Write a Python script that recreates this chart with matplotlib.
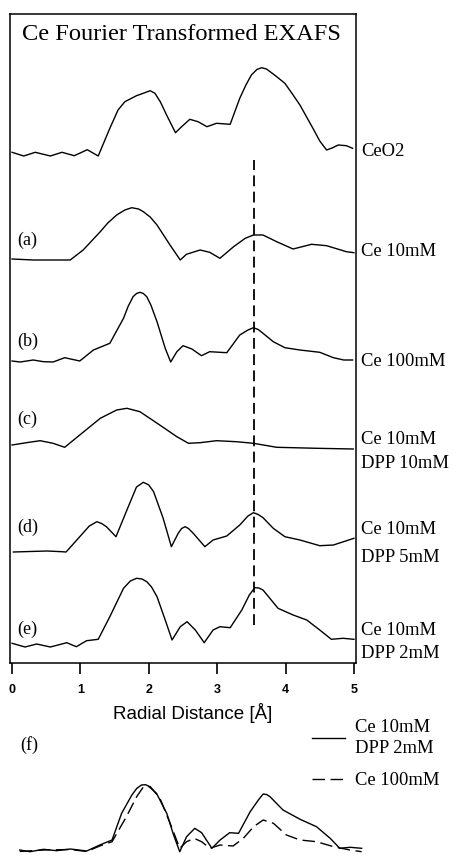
#%%
import matplotlib
matplotlib.use("Agg")
import matplotlib.pyplot as plt

plt.rcParams["font.family"] = ["Liberation Serif", "DejaVu Serif"]

# radial distance (Å) and magnitude (arbitrary, pixel-like units above each baseline)
ceo2_r = [0.0, 0.17, 0.34, 0.56, 0.73, 0.91, 1.10, 1.26, 1.43, 1.55, 1.65, 1.82, 1.95,
          2.02, 2.09, 2.17, 2.26, 2.39, 2.48, 2.60, 2.72, 2.85, 2.99, 3.19, 3.33, 3.42,
          3.50, 3.58, 3.65, 3.72, 3.80, 3.87, 3.99, 4.10, 4.21, 4.40, 4.50, 4.60, 4.68,
          4.77, 4.89, 4.98]
ceo2_ft = [3.7, 0, 3.7, 0, 3.7, 0.3, 6.3, 0, 27.7, 46, 54.3, 60.3, 63.5,
           65.3, 62.7, 54, 41, 23.3, 29.3, 36.7, 34.3, 29.3, 32.7, 31.7, 57.7, 71,
           81, 86.5, 88.3, 87, 83, 79.3, 72.7, 62, 51, 27.7, 15, 6, 8,
           11, 10.3, 7.7]

a_r = [0.0, 0.31, 0.85, 1.04, 1.29, 1.40, 1.53, 1.65, 1.75, 1.85, 1.92, 2.02, 2.12,
       2.31, 2.46, 2.55, 2.75, 2.89, 3.04, 3.24, 3.41, 3.53, 3.67, 3.87, 4.11, 4.38,
       4.60, 4.89, 5.0]
a_ft = [1, 0, 0, 10, 28.3, 37, 45, 50, 52.3, 51, 48.3, 43, 35,
        15, 0, 5.7, 10, 7.7, 1.7, 13.3, 21.7, 25, 25, 18.3, 11, 15.7,
        14.3, 8.3, 7.3]

b_r = [0.0, 0.12, 0.31, 0.46, 0.60, 0.77, 0.99, 1.19, 1.43, 1.63, 1.70, 1.77, 1.82,
       1.87, 1.92, 1.97, 2.03, 2.12, 2.24, 2.32, 2.41, 2.50, 2.63, 2.77, 2.89, 3.14,
       3.33, 3.45, 3.53, 3.60, 3.67, 3.82, 3.99, 4.21, 4.50, 4.70, 4.85, 4.98]
b_ft = [1, 0, 2, 0.3, 0, 4.3, 1, 12, 18.7, 43.7, 56, 65.3, 68.5,
        69.7, 68.5, 65.3, 57, 40.3, 13.7, 0, 10.3, 16.3, 13, 6.3, 10.3, 9.3,
        27, 32, 34.3, 32.5, 28.7, 20.3, 14.3, 12, 9.7, 4.3, 2, 2]

c_r = [0.0, 0.21, 0.41, 0.60, 0.77, 0.99, 1.29, 1.53, 1.68, 1.87, 2.16, 2.41, 2.58,
       2.75, 2.99, 3.28, 3.53, 3.87, 4.46, 4.99]
c_ft = [4, 6.3, 8.3, 5.7, 1.7, 14, 30.7, 39, 40.7, 37.3, 24, 12.3, 5.7,
        6.3, 8.3, 7.3, 5.7, 1.7, 0.7, 0]

d_r = [0.02, 0.51, 0.73, 0.79, 0.99, 1.13, 1.24, 1.31, 1.38, 1.52, 1.73, 1.82, 1.92,
       2.00, 2.07, 2.21, 2.33, 2.43, 2.48, 2.53, 2.58, 2.65, 2.82, 2.94, 3.14, 3.33,
       3.45, 3.53, 3.60, 3.67, 3.82, 3.99, 4.21, 4.50, 4.70, 5.0]
d_ft = [0, 1, 0.3, 0, 15.3, 26, 30.3, 28.5, 25.3, 15.3, 50.3, 65, 69.7,
        67, 60.3, 33.7, 5.3, 18.7, 23.5, 25.3, 23.5, 18.7, 5.3, 12, 16, 27,
        36, 39.3, 37.5, 34.3, 23.7, 15.3, 12, 6.3, 7, 13.7]

e_r = [0.0, 0.19, 0.36, 0.56, 0.80, 0.94, 1.09, 1.26, 1.43, 1.63, 1.73, 1.82, 1.90,
       1.97, 2.04, 2.12, 2.24, 2.34, 2.46, 2.56, 2.68, 2.81, 2.94, 3.04, 3.19, 3.36,
       3.47, 3.55, 3.61, 3.67, 3.89, 4.11, 4.31, 4.50, 4.67, 4.84, 5.0]
e_ft = [3.7, 0, 3, 0, 4.3, 0.3, 6.3, 7.7, 30.3, 58.7, 66, 68.7, 68,
        65.3, 60, 50.3, 27, 7, 20.3, 25.3, 17, 4.3, 17, 20.3, 19.3, 37,
        52, 59.3, 59, 57, 38.7, 32, 27, 17, 7.7, 8.7, 7.7]

# (f) overlay
f_solid_r = [0.01, 0.16, 0.36, 0.55, 0.75, 0.99, 1.18, 1.36, 1.50, 1.65, 1.72, 1.79,
             1.85, 1.89, 2.01, 2.16, 2.26, 2.35, 2.45, 2.57, 2.67, 2.82, 2.94, 3.08,
             3.21, 3.38, 3.50, 3.57, 3.62, 3.67, 3.86, 4.11, 4.35, 4.55, 4.69, 4.84, 5.01]
f_solid_ft = [1, -0.7, 1.7, 0.3, 2, 0, 6, 11, 37.7, 56, 62.5, 66,
              66.3, 65, 57.7, 37.7, 16, -0.7, 14.3, 22.7, 18.3, 2.7, 11, 18.3,
              17.7, 39.3, 51, 57, 56.5, 54.3, 41, 31.7, 24.3, 12.7, 2.7, 3.7, 2.7]
f_dash_r = [0.01, 0.36, 0.75, 0.99, 1.18, 1.36, 1.57, 1.72, 1.82, 1.87, 1.92, 2.06,
            2.21, 2.35, 2.45, 2.56, 2.67, 2.79, 2.94, 3.13, 3.28, 3.43, 3.57, 3.72,
            3.91, 4.11, 4.35, 4.60, 4.84, 5.01]
f_dash_ft = [-0.5, 1, 1.5, -0.5, 5, 9.3, 34.3, 54.3, 64.3, 65, 64.3, 52.7,
             27.7, 2.7, 9.3, 12.7, 9.3, 2.7, 6, 5, 12.7, 24.3, 31, 27.7,
             16, 11, 9.3, 4.3, 1, -0.7]

curves = [(ceo2_r, ceo2_ft), (a_r, a_ft), (b_r, b_ft), (c_r, c_ft), (d_r, d_ft), (e_r, e_ft)]
offsets = [507, 403, 301, 214, 111, 16]
panel_letters = ["", "(a)", "(b)", "(c)", "(d)", "(e)"]
letter_y = [0, 423, 322, 244, 136, 34]
right_labels = [["CeO2"], ["Ce 10mM"], ["Ce 100mM"], ["Ce 10mM", "DPP 10mM"],
                ["Ce 10mM", "DPP 5mM"], ["Ce 10mM", "DPP 2mM"]]
right_label_y = [[512], [412], [302], [223, 200], [133, 106], [33, 10]]

peak_line_r = 3.54
peak_line_top = 503
peak_line_bottom = 38

#%%
fig = plt.figure(figsize=(4.53, 8.55), dpi=100)

ax = fig.add_axes([10 / 453, 192 / 855, 346 / 453, 649 / 855])

for (r, ft), off in zip(curves, offsets):
    ax.plot(r, [v + off for v in ft], color="black", linewidth=1.0)

ax.plot([peak_line_r, peak_line_r], [peak_line_bottom, peak_line_top],
        color="black", linewidth=1.3, dashes=(6, 3))

for letter, ly in zip(panel_letters, letter_y):
    if letter:
        ax.text(0.07, ly, letter, fontsize=13, ha="left", va="center")

for lines, ys in zip(right_labels, right_label_y):
    for txt, ty in zip(lines, ys):
        ax.text(5.10, ty, txt, fontsize=13.4, ha="left", va="center", clip_on=False)

ax.text(2.47, 628, "Ce Fourier Transformed EXAFS", fontsize=17.6,
        ha="center", va="center")

ax.set_xlim(-0.03, 5.03)
ax.set_ylim(0, 649)
ax.set_yticks([])
ax.set_xticks([0, 1, 2, 3, 4, 5])
ax.tick_params(axis="x", direction="out", length=8, width=1.2, pad=7)
for lbl in ax.get_xticklabels():
    lbl.set_family(["Liberation Sans", "DejaVu Sans"])
    lbl.set_fontsize(9)
    lbl.set_fontweight("bold")
for s in ax.spines.values():
    s.set_linewidth(1.1)

fig.text(193 / 453, 1 - 713 / 855, "Radial Distance [Å]", fontsize=13.5,
         family=["Liberation Sans", "DejaVu Sans"], ha="center", va="center")

#%%
# (f) comparação
axf = fig.add_axes([17 / 453, 0, 346 / 453, 95 / 855])
axf.plot(f_solid_r, f_solid_ft, color="black", linewidth=1.0, label="Ce 10mM\nDPP 2mM")
axf.plot(f_dash_r, f_dash_ft, color="black", linewidth=1.0, dashes=(9, 4), label="Ce 100mM")
axf.set_xlim(-0.03, 5.03)
axf.set_ylim(-4, 91)
axf.axis("off")

fig.text(20 / 453, 1 - 745 / 855, "(f)", fontsize=13, ha="left", va="center")

leg = fig.legend(loc="upper left", bbox_to_anchor=(312 / 453, 1 - 719 / 855),
                 frameon=False, fontsize=13.4, handlelength=1.77, handletextpad=0.54,
                 borderpad=0, borderaxespad=0, labelspacing=0.82)
leg.get_texts()[0].set_linespacing(1.3)

fig.savefig("out.png", dpi=100)
